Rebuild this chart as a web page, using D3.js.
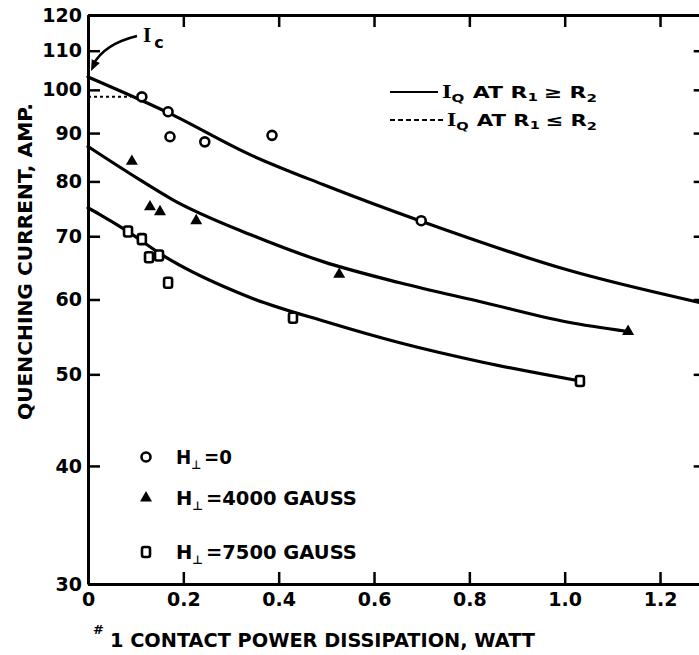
<!DOCTYPE html>
<html><head><meta charset="utf-8">
<script src="https://cdn.jsdelivr.net/npm/d3@7"></script>
<style>body{margin:0;background:#fff} svg{display:block}</style>
</head><body>
<script>
// ---- data ----
const xTicks = [0, 0.2, 0.4, 0.6, 0.8, 1.0, 1.2];
const xTickLabels = ["0", "0.2", "0.4", "0.6", "0.8", "1.0", "1.2"];
const yTicks = [30, 40, 50, 60, 70, 80, 90, 100, 110, 120];

const h0X = [0.113, 0.168, 0.172, 0.245, 0.386, 0.699];
const h0Y = [98.3, 94.8, 89.2, 88.1, 89.5, 72.7];
const h4000X = [0.092, 0.130, 0.151, 0.227, 0.527, 1.133];
const h4000Y = [84.0, 75.2, 74.3, 72.7, 63.8, 55.5];
const h7500X = [0.084, 0.113, 0.128, 0.149, 0.168, 0.430, 1.032];
const h7500Y = [70.8, 69.5, 66.5, 66.8, 62.5, 57.4, 49.2];

const fitH0X = [0, 0.168, 0.340, 0.493, 0.699, 1.005, 1.30];
const fitH0Y = [103.2, 94.6, 85.4, 79.4, 72.6, 64.5, 59.3];
const fitH4000X = [0, 0.109, 0.178, 0.340, 0.493, 0.654, 0.828, 1.005, 1.133];
const fitH4000Y = [87.1, 80.3, 76.5, 70.3, 65.8, 62.5, 59.6, 56.8, 55.5];
const fitH7500X = [0, 0.025, 0.084, 0.151, 0.340, 0.501, 0.654, 0.828, 1.032];
const fitH7500Y = [75.0, 73.8, 70.8, 67.1, 60.3, 56.8, 54.0, 51.5, 49.2];

const dottedX = [0, 0.09];
const dottedY = [98.3, 98.3];
const icValue = 104.6;

const legendLabels = ["0", "4000 GAUSS", "7500 GAUSS"];

// ---- layout ----
const W = 699, H = 655;
const FONT = "'DejaVu Sans', sans-serif";
const svg = d3.select("body").append("svg").attr("width", W).attr("height", H)
  .style("font-family", FONT).style("font-weight", "bold");

const x = d3.scaleLinear().domain([0, 1.3]).range([88, 707.7]);
const y = d3.scaleLog().domain([30, 120]).range([584, 15]);

const zip = (a, b) => a.map((v, i) => [v, b[i]]);

// axes
const axStyle = g => {
  g.select(".domain").attr("stroke", "#000").attr("stroke-width", 3);
  g.selectAll(".tick line").attr("stroke", "#000").attr("stroke-width", 2.5);
  g.selectAll("text").attr("fill", "#000").style("font-family", FONT)
    .style("font-weight", "bold").attr("font-size", 19);
};
svg.append("g").attr("transform", `translate(0,${y(30)})`)
  .call(d3.axisBottom(x).tickValues(xTicks).tickFormat((d, i) => xTickLabels[i])
    .tickSize(-12).tickSizeOuter(0).tickPadding(9))
  .call(axStyle);
svg.append("g").attr("transform", `translate(0,${y(120)})`)
  .call(d3.axisTop(x).tickValues(xTicks).tickFormat("").tickSize(-12).tickSizeOuter(0))
  .call(axStyle);
svg.append("g").attr("transform", `translate(${x(0)},0)`)
  .call(d3.axisLeft(y).tickValues(yTicks).tickFormat(d3.format("d"))
    .tickSize(-12).tickSizeOuter(0).tickPadding(6))
  .call(axStyle);
svg.append("g").attr("transform", `translate(${x(1.3)},0)`)
  .call(d3.axisRight(y).tickValues(yTicks).tickFormat("").tickSize(-14).tickSizeOuter(0))
  .call(axStyle);

// fitted curves
const line = d3.line().x(d => x(d[0])).y(d => y(d[1])).curve(d3.curveMonotoneX);
[[fitH0X, fitH0Y], [fitH4000X, fitH4000Y], [fitH7500X, fitH7500Y]].forEach(([a, b]) => {
  svg.append("path").attr("d", line(zip(a, b))).attr("fill", "none")
    .attr("stroke", "#000").attr("stroke-width", 3.2).attr("stroke-linecap", "round");
});
svg.append("path").attr("d", d3.line().x(d => x(d[0])).y(d => y(d[1]))(zip(dottedX, dottedY)))
  .attr("stroke", "#000").attr("stroke-width", 2).attr("stroke-dasharray", "3,3").attr("fill", "none");

// markers
const drawCircle = (g, cx, cy) => g.append("circle").attr("cx", cx).attr("cy", cy).attr("r", 4.5)
  .attr("fill", "#fff").attr("stroke", "#000").attr("stroke-width", 2.6);
const drawTri = (g, cx, cy) => g.append("path").attr("d", d3.symbol(d3.symbolTriangle, 62)())
  .attr("transform", `translate(${cx},${cy})`).attr("fill", "#000");
const drawSq = (g, cx, cy) => g.append("rect").attr("x", cx - 4).attr("y", cy - 5)
  .attr("width", 8).attr("height", 10).attr("rx", 2)
  .attr("fill", "#fff").attr("stroke", "#000").attr("stroke-width", 2.6);

const mg = svg.append("g");
zip(h0X, h0Y).forEach(d => drawCircle(mg, x(d[0]), y(d[1])));
zip(h4000X, h4000Y).forEach(d => drawTri(mg, x(d[0]), y(d[1])));
zip(h7500X, h7500Y).forEach(d => drawSq(mg, x(d[0]), y(d[1])));

// width fitting helper
function fit(sel, target) {
  const b = sel.node().getBBox();
  const s = target / b.width;
  sel.attr("transform", `translate(${b.x},0) scale(${s},1) translate(${-b.x},0)`);
}

// bottom-left legend
const legY = [457, 498, 552];
const markers = [drawCircle, drawTri, drawSq];
const legW = [56, 181, 181];
legendLabels.forEach((lab, i) => {
  markers[i](svg, 146, legY[i]);
  const t = svg.append("text").attr("x", 176).attr("y", legY[i] + 7.5).attr("font-size", 20);
  t.append("tspan").text("H");
  t.append("tspan").attr("font-size", 12).attr("dy", 5).text("⊥");
  t.append("tspan").attr("dy", -5).attr("dx", 3).text("=" + lab);
  fit(t, legW[i]);
});

// top-right legend
const topLeg = [{y: 92, dash: null, x0: 390, x1: 438, tx: 442, rel: "≥", w: 155},
                {y: 120, dash: "5,3", x0: 390, x1: 445, tx: 447, rel: "≤", w: 150}];
topLeg.forEach(L => {
  svg.append("line").attr("x1", L.x0).attr("x2", L.x1).attr("y1", L.y).attr("y2", L.y)
    .attr("stroke", "#000").attr("stroke-width", 2).attr("stroke-dasharray", L.dash);
  const t = svg.append("text").attr("x", L.tx).attr("y", L.y + 6).attr("font-size", 16);
  t.append("tspan").style("font-family", "'Liberation Serif', serif").attr("font-size", 18).text("I");
  t.append("tspan").attr("font-size", 11).attr("dy", 4).text("Q");
  t.append("tspan").attr("dy", -4).attr("dx", 6).text("AT R");
  t.append("tspan").attr("font-size", 11).attr("dy", 3).text("1");
  t.append("tspan").attr("dy", -3).attr("dx", 4).text(L.rel + " R");
  t.append("tspan").attr("font-size", 11).attr("dy", 4).text("2");
  fit(t, L.w);
});

// Ic annotation
const tip = [91, 71], ctrl = [104, 44], start = [137, 36];
svg.append("path").attr("d", `M${start[0]},${start[1]} Q${ctrl[0]},${ctrl[1]} ${tip[0] + 2},${tip[1] - 6}`)
  .attr("fill", "none").attr("stroke", "#000").attr("stroke-width", 2.5);
{
  const dx = tip[0] - ctrl[0], dy = tip[1] - ctrl[1], L = Math.hypot(dx, dy);
  const ux = dx / L, uy = dy / L, px = -uy, py = ux, len = 11, hw = 4.5;
  const bx = tip[0] - ux * len, by = tip[1] - uy * len;
  svg.append("path").attr("d", `M${tip[0]},${tip[1]} L${bx + px * hw},${by + py * hw} L${bx - px * hw},${by - py * hw} Z`)
    .attr("fill", "#000");
}
const ic = svg.append("text").attr("x", 143).attr("y", 42);
ic.append("tspan").style("font-family", "'Liberation Serif', serif").attr("font-size", 21).text("I");
ic.append("tspan").attr("font-size", 16).attr("dy", 6).attr("dx", 3).text("c");

// axis titles
svg.append("text").attr("transform", "translate(31.5,261.5) rotate(-90)")
  .attr("text-anchor", "middle").attr("font-size", 19)
  .attr("textLength", 317).attr("lengthAdjust", "spacingAndGlyphs")
  .text("QUENCHING CURRENT, AMP.");
svg.append("text").attr("x", 93).attr("y", 634).attr("font-size", 13).text("#");
svg.append("text").attr("x", 110).attr("y", 647).attr("font-size", 19)
  .attr("textLength", 425).attr("lengthAdjust", "spacingAndGlyphs")
  .text("1 CONTACT POWER DISSIPATION, WATT");
</script>
</body></html>
